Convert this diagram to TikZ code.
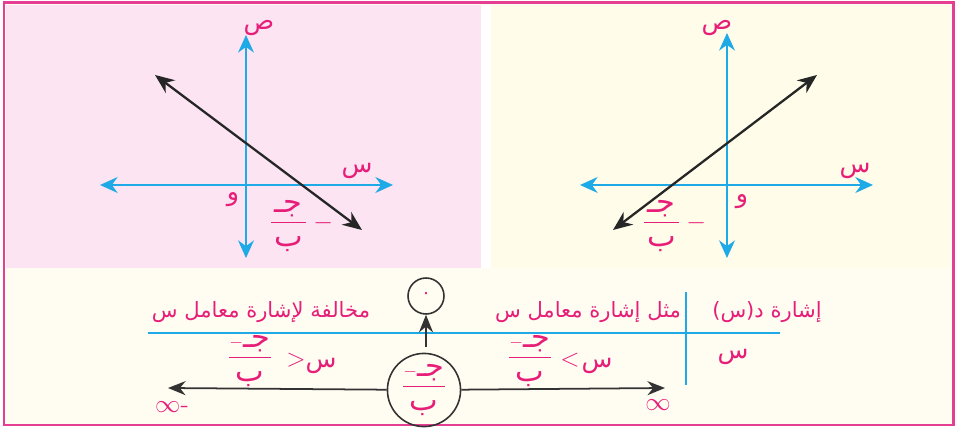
\documentclass[tikz,border=0pt]{standalone}
\usepackage{amsmath}
\usepackage{fontspec}
\usetikzlibrary{arrows.meta,positioning,calc}
\newfontfamily\arabicfont[Script=Arabic]{DejaVu Sans}
\TeXXeTstate=1
\newcommand{\arb}[1]{{\arabicfont\beginR #1\endR}}
\newcommand{\numj}{\hbox{\LARGE\arb{جـ}}\rule[-5pt]{0pt}{10pt}}
\newcommand{\denb}{\mkern3mu\hbox{\LARGE\arb{ب}}\rule{0pt}{12.5pt}\mkern3mu}
\newcommand{\negfrac}{$\frac{-\numj}{\denb}$}
\newcommand{\posfrac}{$\frac{\numj}{\denb}\mkern4mu{-}$}
\definecolor{framepink}{RGB}{229,62,146}
\definecolor{labelpink}{RGB}{230,30,120}
\definecolor{axiscyan}{RGB}{30,170,230}
\definecolor{panelpink}{RGB}{252,228,243}
\definecolor{panelcream}{RGB}{255,252,234}
\definecolor{basecream}{RGB}{255,253,242}

\begin{document}
\begin{tikzpicture}[x=0.02cm,y=-0.02cm,
		axis/.style={draw=axiscyan,line width=1.4pt,{Stealth[length=10pt,width=9pt]}-{Stealth[length=10pt,width=9pt]}},
		gline/.style={draw=black!85,line width=1.3pt,{Stealth[length=11pt,width=9pt]}-{Stealth[length=11pt,width=9pt]}},
		lbl/.style={text=labelpink,font=\Large,inner sep=1pt},
		head/.style={text=labelpink,font=\large,inner sep=1pt},
		frc/.style={text=labelpink,font=\Large,inner sep=1pt},
		rule/.style={draw=axiscyan,line width=1.4pt},
		nline/.style={draw=black!80,line width=1pt,-{Stealth[length=10pt,width=8pt]}}]
		\useasboundingbox (0,0) rectangle (957,428);
		% backgrounds
		\fill[basecream] (4,3) rectangle (953,425);
		\fill[panelpink] (6,5) rectangle (481,268);
		\fill[white] (481,5) rectangle (491,268);
		\fill[panelcream] (491,5) rectangle (951,268);
		\draw[framepink,line width=1.7pt] (4,3) rectangle (953,425);
		% left graph
		\coordinate (L-xl) at (100,185);
		\coordinate (L-xr) at (393,185);
		\coordinate (L-yt) at (246,35);
		\coordinate (L-yb) at (246,258);
		\coordinate (L-a) at (155,75);
		\coordinate (L-b) at (362,230);
		\draw[axis] (L-xl) -- (L-xr);
		\draw[axis] (L-yb) -- (L-yt);
		\draw[gline] (L-a) -- (L-b);
		\node[lbl] (L-ylab) at (259,28) {\arb{ص}};
		\node[lbl] (L-xlab) at (357,171) {\arb{س}};
		\node[lbl] (L-olab) at (233,200) {\arb{و}};
		\node[frc] (L-root) at (301,226) {\posfrac};
		% right graph
		\coordinate (R-xl) at (580,185);
		\coordinate (R-xr) at (873,185);
		\coordinate (R-yt) at (727,33);
		\coordinate (R-yb) at (727,258);
		\coordinate (R-a) at (613,230);
		\coordinate (R-b) at (817,75);
		\draw[axis] (R-xl) -- (R-xr);
		\draw[axis] (R-yb) -- (R-yt);
		\draw[gline] (R-a) -- (R-b);
		\node[lbl] (R-ylab) at (717,28) {\arb{ص}};
		\node[lbl] (R-xlab) at (855,171) {\arb{س}};
		\node[lbl] (R-olab) at (742,202) {\arb{و}};
		\node[frc] (R-root) at (674,226) {\posfrac};
		% sign table
		\coordinate (T-l) at (148,333);
		\coordinate (T-r) at (780,333);
		\coordinate (T-t) at (686,292);
		\coordinate (T-b) at (686,385);
		\draw[rule] (T-l) -- (T-r);
		\draw[rule] (T-t) -- (T-b);
		\node[head] (hdr) at (767,312) {\arb{إشارة د(س)}};
		\node[head] (same) at (588,312) {\arb{مثل إشارة معامل س}};
		\node[head] (oppo) at (261,312) {\arb{مخالفة لإشارة معامل س}};
		\node[lbl] (xrow) at (733,357) {\arb{س}};
		% zero and root
		\node[circle,draw=black!80,line width=0.9pt,minimum size=0.72cm,inner sep=0pt,text=labelpink] (zero) at (426,296) {\arb{٠}};
		\coordinate (zs) at (426,347);
		\draw[nline] (zs) -- (zero);
		\node[circle,draw=black!80,line width=0.9pt,minimum size=1.16cm,inner sep=0pt,frc] (root) at (424,390) {\negfrac};
		\coordinate (ninf) at (168,388);
		\coordinate (pinf) at (665,388);
		\draw[nline] (root) -- (ninf);
		\draw[nline] (root) -- (pinf);
		\node[lbl] (ninflab) at (172,407) {$\infty$-};
		\node[lbl] (pinflab) at (658,405) {$\infty$};
		% inequalities
		\node[frc] (lfrac) at (250,361) {\negfrac};
		\node[lbl] (lgt) at (296,360) {$>$};
		\node[lbl] (lx) at (321,366) {\arb{س}};
		\node[frc] (rfrac) at (530,361) {\negfrac};
		\node[lbl] (rlt) at (570,360) {$<$};
		\node[lbl] (rx) at (597,366) {\arb{س}};
	\end{tikzpicture}
\end{document}
